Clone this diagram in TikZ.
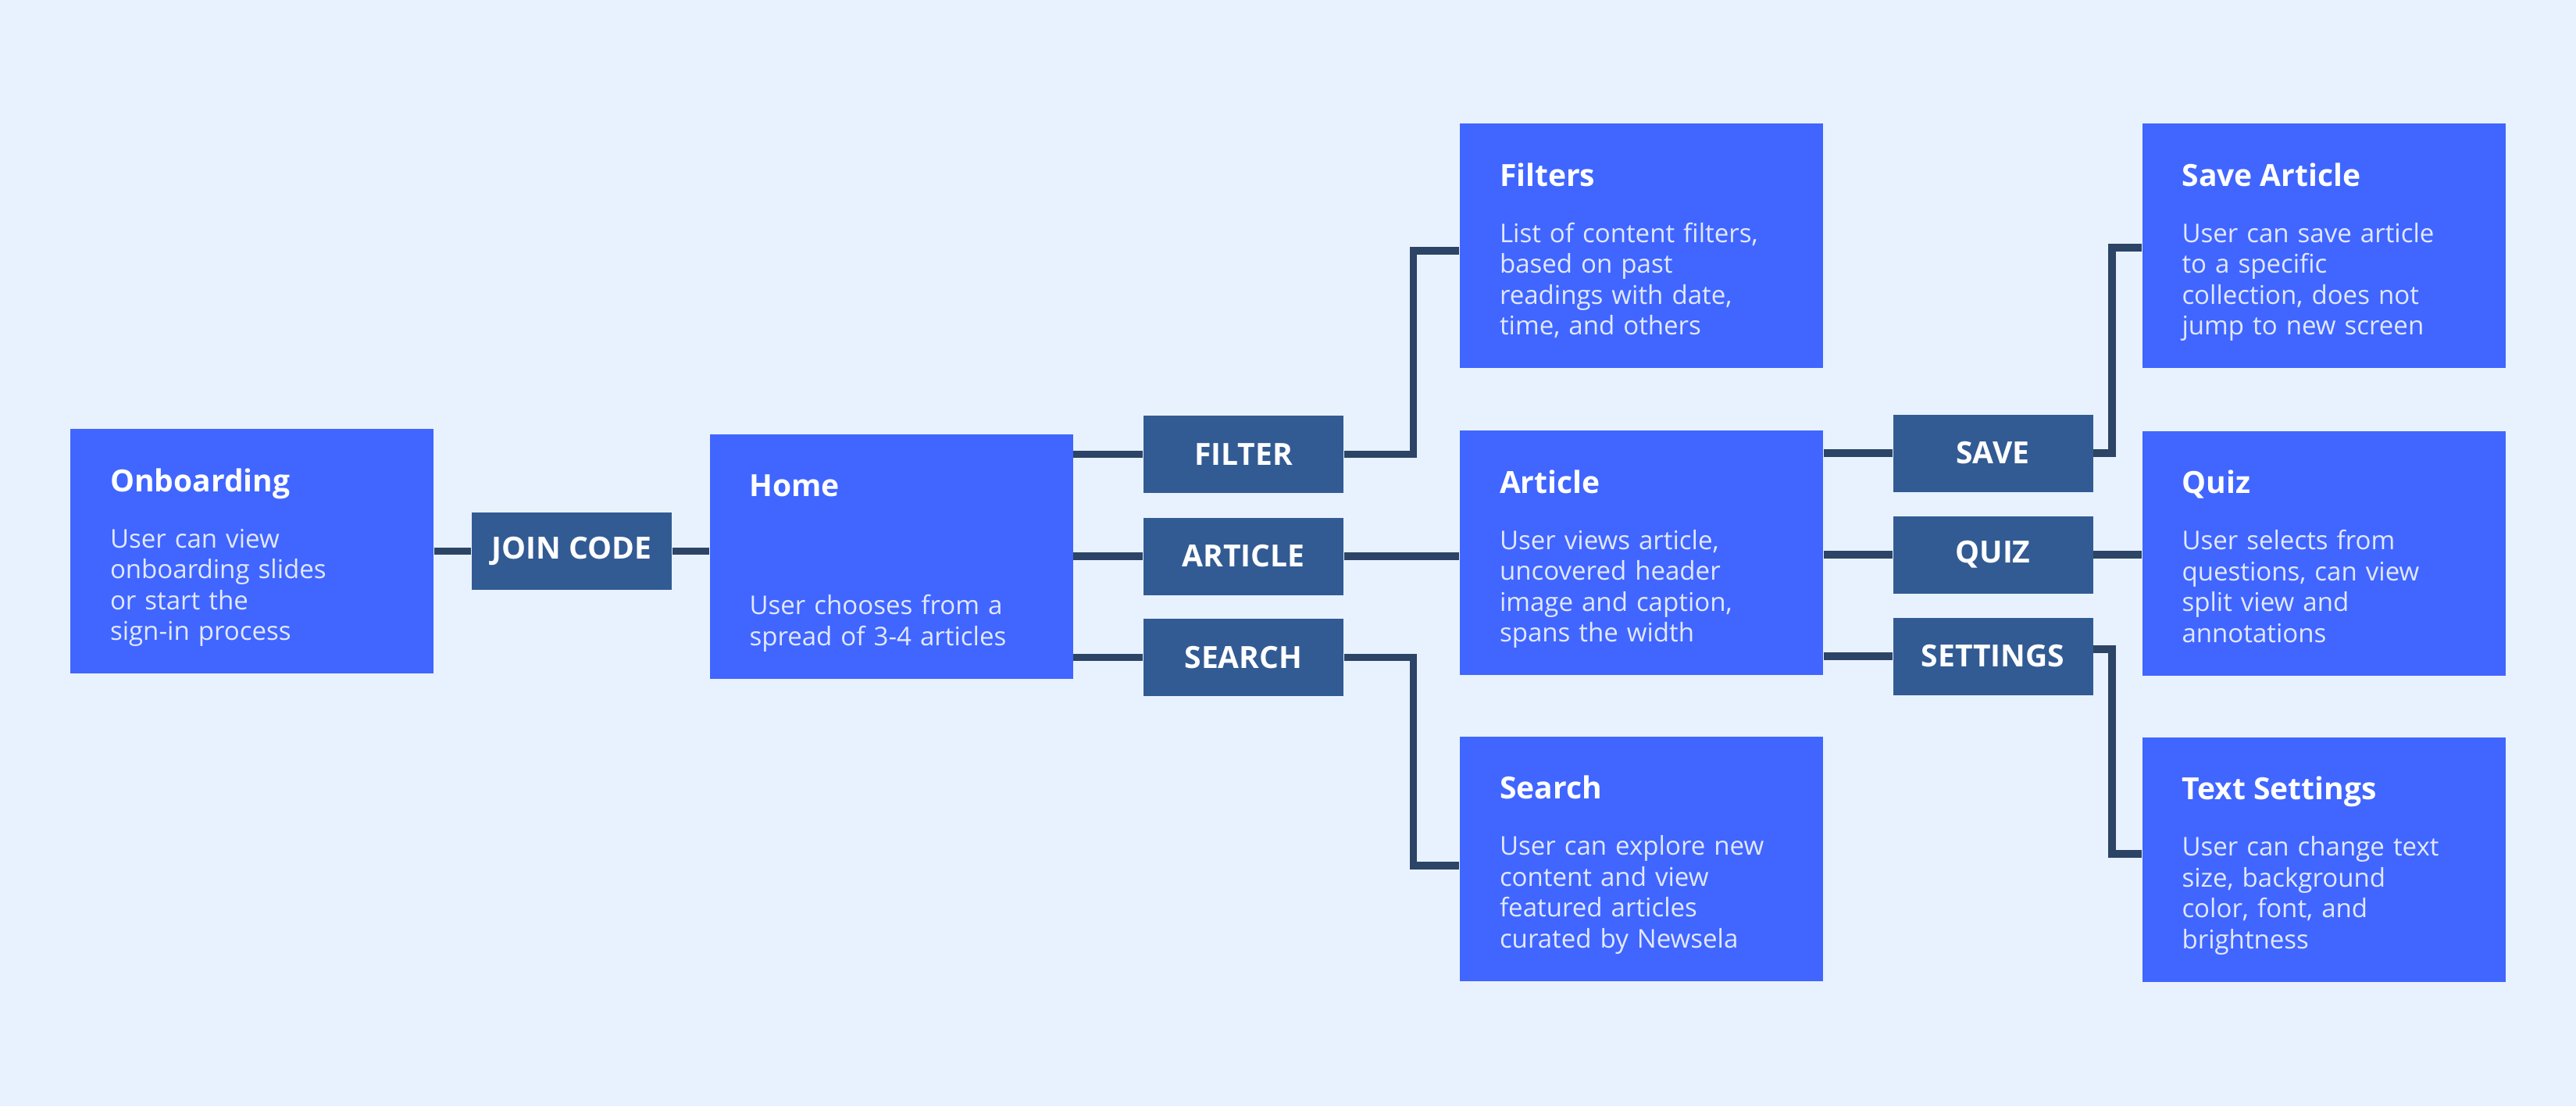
\documentclass[tikz,border=0pt]{standalone}
\usepackage{fontspec}
\setmainfont{Open Sans}
\definecolor{pagebg}{HTML}{E8F2FE}
\definecolor{boxblue}{HTML}{4066FF}
\definecolor{tagblue}{HTML}{325B94}
\definecolor{wirecol}{HTML}{2C4466}
\definecolor{bodytxt}{HTML}{E2E8FF}
\tikzset{
  screen/.style={fill=boxblue, minimum width=4.65cm, minimum height=3.13cm, inner sep=0pt},
  tag/.style={fill=tagblue, minimum width=2.56cm, minimum height=0.99cm, inner sep=0pt,
    text=white, font=\fontsize{11.1}{13}\selectfont\bfseries},
  head/.style={anchor=base west, inner sep=0pt, text=white, font=\fontsize{11.1}{13}\selectfont\bfseries},
  blurb/.style={anchor=base west, inner sep=0pt, text=bodytxt, text width=4cm, align=left,
    font=\fontsize{9.4}{11.24}\selectfont},
  link/.style={draw=wirecol, line width=0.095cm}
}
\begin{document}
\begin{tikzpicture}
          \fill [pagebg] (0,0) rectangle (32.98,-14.16);
          \useasboundingbox (0,0) rectangle (32.98,-14.16);
          % screens
          \node [screen] (onb) at (3.225,-7.055) {};
          \node [screen] (home) at (11.41,-7.12) {};
          \node [screen] (filters) at (21.015,-3.145) {};
          \node [screen] (article) at (21.015,-7.075) {};
          \node [screen] (search) at (21.015,-10.99) {};
          \node [screen] (savebox) at (29.75,-3.145) {};
          \node [screen] (quiz) at (29.75,-7.08) {};
          \node [screen] (textset) at (29.75,-11.0) {};
          % actions
          \node [tag] (join) at (7.32,-7.055) {JOIN CODE};
          \node [tag] (filter) at (15.92,-5.815) {FILTER};
          \node [tag] (articleb) at (15.92,-7.12) {ARTICLE};
          \node [tag] (searchb) at (15.92,-8.415) {SEARCH};
          \node [tag] (save) at (25.515,-5.8) {SAVE};
          \node [tag] (quizb) at (25.515,-7.1) {QUIZ};
          \node [tag] (settings) at (25.515,-8.4) {SETTINGS};
          % texts
          \node [head] (onbT) at ([shift={(0.51,-0.81)}]onb.north west) {Onboarding};
          \node [blurb] (onbB) at ([shift={(0.51,-1.527)}]onb.north west) {User can view\\onboarding slides\\or start the\\sign-in process};
          \node [head] (homeT) at ([shift={(0.51,-0.81)}]home.north west) {Home};
          \node [blurb] (homeB) at ([shift={(0.51,-2.317)}]home.north west) {User chooses from a\\spread of 3-4 articles};
          \node [head] (filtersT) at ([shift={(0.51,-0.81)}]filters.north west) {Filters};
          \node [blurb] (filtersB) at ([shift={(0.51,-1.527)}]filters.north west) {List of content filters,\\based on past\\readings with date,\\time, and others};
          \node [head] (articleT) at ([shift={(0.51,-0.81)}]article.north west) {Article};
          \node [blurb] (articleB) at ([shift={(0.51,-1.527)}]article.north west) {User views article,\\uncovered header\\image and caption,\\spans the width};
          \node [head] (searchT) at ([shift={(0.51,-0.81)}]search.north west) {Search};
          \node [blurb] (searchB) at ([shift={(0.51,-1.527)}]search.north west) {User can explore new\\content and view\\featured articles\\curated by Newsela};
          \node [head] (saveboxT) at ([shift={(0.51,-0.81)}]savebox.north west) {Save Article};
          \node [blurb] (saveboxB) at ([shift={(0.51,-1.527)}]savebox.north west) {User can save article\\to a specific\\collection, does not\\jump to new screen};
          \node [head] (quizT) at ([shift={(0.51,-0.81)}]quiz.north west) {Quiz};
          \node [blurb] (quizB) at ([shift={(0.51,-1.527)}]quiz.north west) {User selects from\\questions, can view\\split view and\\annotations};
          \node [head] (textsetT) at ([shift={(0.51,-0.81)}]textset.north west) {Text Settings};
          \node [blurb] (textsetB) at ([shift={(0.51,-1.527)}]textset.north west) {User can change text\\size, background\\color, font, and\\brightness};
          % links
          \draw [link] (onb.east) -- (join.west);
          \draw [link] (join.east) -- (join.east -| home.west);
          \draw [link] (filter.west -| home.east) -- (filter.west);
          \draw [link] (articleb.west -| home.east) -- (articleb.west);
          \draw [link] (searchb.west -| home.east) -- (searchb.west);
          \draw [link] (filter.east) -- ++(0.89,0) |- ([yshift=-0.065cm]filters.west);
          \draw [link] (articleb.east) -- (articleb.east -| article.west);
          \draw [link] (searchb.east) -- ++(0.89,0) |- ([yshift=-0.09cm]search.west);
          \draw [link] (save.west -| article.east) -- (save.west);
          \draw [link] (quizb.west -| article.east) -- (quizb.west);
          \draw [link] (settings.west -| article.east) -- (settings.west);
          \draw [link] (save.east) -- ++(0.24,0) |- ([yshift=-0.025cm]savebox.west);
          \draw [link] (quizb.east) -- (quizb.east -| quiz.west);
          \draw [link] ([yshift=0.09cm]settings.east) -- ++(0.24,0) |- ([yshift=0.07cm]textset.west);
        \end{tikzpicture}
\end{document}
